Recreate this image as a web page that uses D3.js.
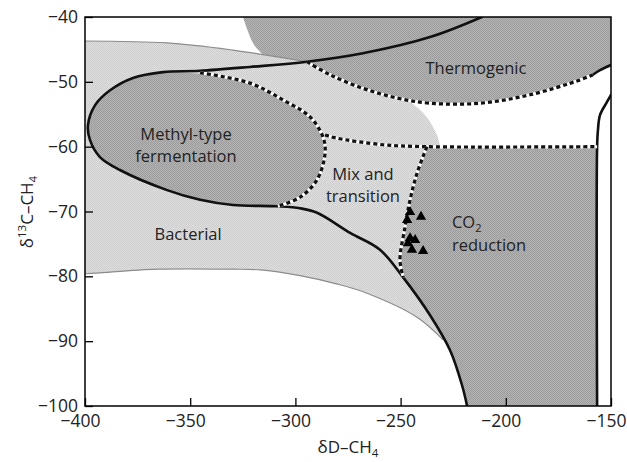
<!DOCTYPE html>
<html>
<head>
<meta charset="utf-8">
<script src="https://cdn.jsdelivr.net/npm/d3@7"></script>
<style>
  body { margin: 0; background: #fff; }
  svg text { font-family: "Open Sans", sans-serif; }
</style>
</head>
<body>
<svg id="chart"></svg>
<script>
// Axis ticks
const xTicks = [-400, -350, -300, -250, -200, -150];
const yTicks = [-40, -50, -60, -70, -80, -90, -100];

// Boundary lines, as [δD, δ13C]
const upperSolid = [
  [-211.4, -40], [-236, -43.1], [-267.9, -45.6], [-294.5, -46.9], [-321.6, -47.7],
  [-345.3, -48.3], [-362.9, -48.5]
];
const methylSolid = [
  [-362.9, -48.5], [-377.2, -49.4], [-388.1, -51.3], [-395.2, -53.6], [-398.6, -56.7],
  [-397.6, -59.0], [-392.9, -61.6], [-383.4, -63.6], [-361, -66.7], [-345.3, -68.2],
  [-329.7, -69.0], [-308.3, -69.2]
];
const lowerSolid = [
  [-308.3, -69.2], [-297.8, -69.5], [-289.7, -70.2], [-274, -73.3], [-259.8, -75.9],
  [-248.7, -80.2], [-236, -86.0], [-226.5, -91.4], [-220.8, -96.8], [-218.4, -100]
];
const methylDash = [
  [-345.3, -48.6], [-321.6, -50.2], [-305.9, -52.8], [-293.1, -55.4], [-286.9, -58.5],
  [-285.9, -61.0], [-289.7, -65.1], [-297.8, -67.8], [-308.3, -69.2]
];
const thermoDash = [
  [-294.5, -46.9], [-283.6, -48.9], [-267.9, -51.0], [-251.7, -52.5], [-236, -53.3],
  [-212.3, -53.3], [-188.5, -52.0], [-164.7, -49.7], [-158.6, -48.9]
];
const thermoSolid = [[-158.6, -48.9], [-155.2, -48.2], [-150, -47.4]];
const thermoLeftEdge = [[-324.9, -40], [-322.8, -42.0], [-319.6, -44.3], [-315.4, -45.8]];
const rightSolid = [
  [-156.6, -100], [-156.6, -60], [-156.2, -57.4], [-155.2, -55.1], [-151.9, -53.1], [-150, -52.0]
];
const mixTopDash = [
  [-285.9, -58.2], [-280.2, -58.7], [-258.4, -59.7], [-237.5, -60], [-156.6, -60]
];
const mixCo2Dash = [
  [-237.5, -60], [-242.2, -64.1], [-245.5, -68.2], [-247.9, -72.4], [-250.3, -77.5], [-248.7, -80.2]
];
const bacterialTopEdge = [
  [-400, -43.7], [-361, -44.0], [-329.7, -45.1], [-315.4, -45.8], [-294.5, -46.9]
];
const bacterialRightEdge = [
  [-251.7, -52.5], [-247.9, -52.7], [-238.4, -55.1], [-232.7, -58.2], [-231.3, -59.9]
];
const bacterialLowEdge = [
  [-229.8, -89.8], [-242.2, -86.3], [-266, -82.6], [-280, -81.2], [-297.8, -79.9],
  [-316.8, -79.0], [-329.7, -78.9], [-365.8, -78.9], [-394.3, -79.5], [-400, -79.6]
];

// Samples (δD, δ13C)
const sampleD = [-245.5, -240.3, -246.9, -245.5, -243.1, -246.5, -244.6, -239.3];
const sampleC = [-70.1, -70.8, -71.3, -74.1, -74.4, -74.9, -75.9, -76.1];

// Zone labels
const zoneNames = [["Thermogenic"], ["Methyl-type", "fermentation"], ["Mix and", "transition"], ["CO", "reduction"], ["Bacterial"]];
const zoneAt = [[-214.2, -48.8], [-352, -59.0], [-267.9, -65.2], [-225.6, -72.6], [-351, -74.4]];

const width = 627, height = 462;
const margin = { top: 17, right: 16, bottom: 56, left: 85 };
const innerW = width - margin.left - margin.right;
const innerH = height - margin.top - margin.bottom;

const x = d3.scaleLinear().domain([-400, -150]).range([margin.left, margin.left + innerW]);
const y = d3.scaleLinear().domain([-40, -100]).range([margin.top, margin.top + innerH]);

const svg = d3.select('#chart').attr('width', width).attr('height', height);
const defs = svg.append('defs');

defs.append('clipPath').attr('id', 'plot-clip')
  .append('rect')
    .attr('x', margin.left).attr('y', margin.top)
    .attr('width', innerW).attr('height', innerH);

// halftone-like fills
function screen(id, a, b) {
  const p = defs.append('pattern').attr('id', id)
    .attr('patternUnits', 'userSpaceOnUse').attr('width', 2).attr('height', 2);
  p.append('rect').attr('width', 2).attr('height', 2).attr('fill', a);
  p.append('rect').attr('width', 1).attr('height', 1).attr('fill', b);
  p.append('rect').attr('x', 1).attr('y', 1).attr('width', 1).attr('height', 1).attr('fill', b);
}
screen('light', '#e0e0e0', '#cccccc');
screen('dark', '#b4b4b4', '#9c9c9c');

const smooth = d3.line().x(d => x(d[0])).y(d => y(d[1])).curve(d3.curveCatmullRom.alpha(0.5));
const straight = d3.line().x(d => x(d[0])).y(d => y(d[1]));
const ring = d3.line().x(d => x(d[0])).y(d => y(d[1])).curve(d3.curveCatmullRomClosed.alpha(0.5));
const rev = a => a.slice().reverse();

// joins curved and straight runs into one closed outline
function outline(runs) {
  return runs.map((r, i) => {
    const d = (r.straight ? straight : smooth)(r.pts);
    return i ? d.replace(/^M/, 'L') : d;
  }).join('') + 'Z';
}

const plot = svg.append('g').attr('clip-path', 'url(#plot-clip)');

// bacterial field (light)
plot.append('path')
  .attr('d', outline([
    { pts: bacterialTopEdge },
    { pts: thermoDash.slice(0, 4) },
    { pts: bacterialRightEdge },
    { pts: [[-231.3, -59.9], [-212, -72], [-229.8, -89.8]], straight: true },
    { pts: bacterialLowEdge },
    { pts: [[-400, -79.6], [-400, -43.7]], straight: true }
  ]))
  .attr('fill', 'url(#light)');

// thermogenic field
plot.append('path')
  .attr('d', outline([
    { pts: thermoLeftEdge },
    { pts: bacterialTopEdge.slice(3) },
    { pts: thermoDash },
    { pts: thermoSolid },
    { pts: [[-150, -47.4], [-150, -40], [-324.9, -40]], straight: true }
  ]))
  .attr('fill', 'url(#dark)');

// CO2 reduction field
plot.append('path')
  .attr('d', outline([
    { pts: [[-237.5, -60], [-156.6, -60], [-156.6, -100], [-218.4, -100]], straight: true },
    { pts: rev(lowerSolid.slice(5)) },
    { pts: rev(mixCo2Dash) }
  ]))
  .attr('fill', 'url(#dark)');

// methyl-type fermentation field
plot.append('path')
  .attr('d', ring(methylSolid.slice(0, -1).concat(rev(methylDash).slice(0, -1))))
  .attr('fill', 'url(#dark)');

// soft edges of the bacterial field
[bacterialTopEdge, bacterialLowEdge].forEach(edge => {
  plot.append('path').attr('d', smooth(edge))
    .attr('fill', 'none').attr('stroke', '#8c8c8c').attr('stroke-width', 1.2);
});

// solid boundaries
const mainSolid = upperSolid.concat(methylSolid.slice(1), lowerSolid.slice(1));
[mainSolid, rightSolid, thermoSolid].forEach(l => {
  plot.append('path').attr('d', smooth(l))
    .attr('fill', 'none').attr('stroke', '#111').attr('stroke-width', 2.6)
    .attr('stroke-linecap', 'round');
});

// dashed boundaries
[thermoDash, methylDash, mixTopDash, mixCo2Dash].forEach(l => {
  plot.append('path').attr('d', smooth(l))
    .attr('fill', 'none').attr('stroke', '#fff').attr('stroke-width', 3);
  plot.append('path').attr('d', smooth(l))
    .attr('fill', 'none').attr('stroke', '#111').attr('stroke-width', 3.2)
    .attr('stroke-dasharray', '4,3');
});

// samples
const tri = d3.symbol().type(d3.symbolTriangle).size(46);
plot.selectAll('path.sample')
  .data(sampleD.map((d, i) => [d, sampleC[i]]))
  .enter()
  .append('path')
    .attr('class', 'sample')
    .attr('d', tri)
    .attr('transform', d => `translate(${x(d[0])},${y(d[1])})`)
    .attr('fill', '#000');

// zone labels
zoneNames.forEach((lines, i) => {
  const isCo2 = lines[0] === 'CO';
  const t = svg.append('text')
    .attr('x', x(zoneAt[i][0]))
    .attr('y', y(zoneAt[i][1]))
    .attr('text-anchor', isCo2 ? 'start' : 'middle')
    .attr('font-size', 16.5)
    .attr('fill', '#222');
  lines.forEach((s, j) => {
    t.append('tspan')
      .attr('x', x(zoneAt[i][0]))
      .attr('dy', j === 0 ? 0 : (isCo2 ? 19 : 21.5))
      .text(s);
    if (isCo2 && j === 0) {
      t.append('tspan').attr('font-size', 11).attr('dy', 4).text('2');
    }
  });
});

// frame
svg.append('rect')
  .attr('x', margin.left).attr('y', margin.top)
  .attr('width', innerW).attr('height', innerH)
  .attr('fill', 'none').attr('stroke', '#000').attr('stroke-width', 1.5);

// Y Axis
const yAxis = d3.axisLeft(y).tickValues(yTicks).tickSize(-8).tickSizeOuter(0).tickPadding(7);
svg.append('g')
  .attr('transform', `translate(${margin.left},0)`)
  .call(yAxis)
  .call(g => g.select('.domain').remove())
  .call(g => g.selectAll('line').attr('stroke-width', 1.3))
  .call(g => g.selectAll('text').attr('font-size', 17.5).attr('fill', '#222')
    .attr('font-family', '"Open Sans", sans-serif'));

// X Axis
const xAxis = d3.axisBottom(x).tickValues(xTicks).tickSize(-8).tickSizeOuter(0).tickPadding(9);
svg.append('g')
  .attr('transform', `translate(0,${margin.top + innerH})`)
  .call(xAxis)
  .call(g => g.select('.domain').remove())
  .call(g => g.selectAll('line').attr('stroke-width', 1.3))
  .call(g => g.selectAll('text').attr('font-size', 17.5).attr('fill', '#222').attr('dx', -5)
    .attr('font-family', '"Open Sans", sans-serif'));

// axis titles
const xt = svg.append('text')
  .attr('x', margin.left + innerW / 2)
  .attr('y', 453)
  .attr('text-anchor', 'middle')
  .attr('font-size', 17)
  .attr('fill', '#222');
xt.append('tspan').text('δD–CH');
xt.append('tspan').attr('font-size', 11.5).attr('dy', 4).text('4');

const yt = svg.append('text')
  .attr('transform', `translate(33,212) rotate(-90)`)
  .attr('text-anchor', 'middle')
  .attr('font-size', 17)
  .attr('fill', '#222');
yt.append('tspan').text('δ');
yt.append('tspan').attr('font-size', 11.5).attr('dy', -7).text('13');
yt.append('tspan').attr('dy', 7).text('C–CH');
yt.append('tspan').attr('font-size', 11.5).attr('dy', 4).text('4');
</script>
</body>
</html>
